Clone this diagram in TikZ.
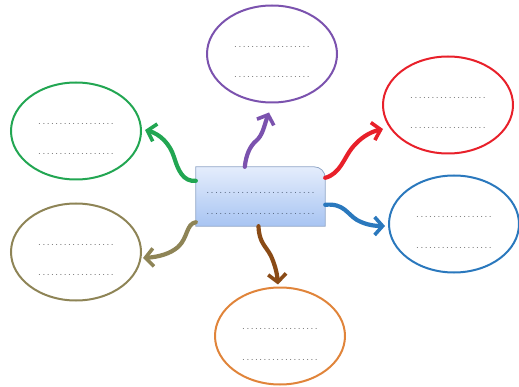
\documentclass[tikz,border=0pt]{standalone}
\usetikzlibrary{shapes.geometric,arrows.meta,calc}
\definecolor{cpurple}{HTML}{7B52AE}
\definecolor{cgreen}{HTML}{22A652}
\definecolor{cred}{HTML}{E8202A}
\definecolor{cblue}{HTML}{2A78BD}
\definecolor{colive}{HTML}{8E8456}
\definecolor{cbrown}{HTML}{8A4B16}
\definecolor{corange}{HTML}{E0843A}
\definecolor{cdots}{HTML}{5A5A5A}
\definecolor{cboxdots}{HTML}{46566E}
\definecolor{cboxtop}{HTML}{E4EDFC}
\definecolor{cboxbot}{HTML}{A8C4F2}
\definecolor{cboxline}{HTML}{8FA5C6}
\newcommand\dotsrow[2][1.5pt]{\foreach \i in {1,...,#2}{.\hspace{#1}}}
\begin{document}
\begin{tikzpicture}[x=1pt,y=-1pt,
  ell/.style={ellipse, line width=2pt, minimum width=130pt, minimum height=97pt, inner sep=0pt},
  dotrow/.style={font=\fontsize{10}{11}\selectfont, text=cdots, inner sep=0pt, anchor=base},
  boxdots/.style={font=\fontsize{11}{12}\selectfont, text=cboxdots, inner sep=0pt, anchor=base},
  arr/.style={line width=4.2pt, line cap=round, -{Straight Barb[length=8pt,width=18pt,line width=3.6pt]}}]
\useasboundingbox (0,0) rectangle (519,387);
% ellipses
\node[ell, draw=cpurple] (pur) at (272,54) {};
\node[ell, draw=cgreen]  (grn) at (76,131) {};
\node[ell, draw=cred]    (red) at (448,105) {};
\node[ell, draw=colive]  (oli) at (76,252) {};
\node[ell, draw=cblue]   (blu) at (454,224) {};
\node[ell, draw=corange] (org) at (280,336) {};
\foreach \e in {pur,grn,red,oli,blu,org}{
  \node[dotrow] (\e1) at ($(\e)+(0,-6.5)$) {\dotsrow{18}};
  \node[dotrow] (\e2) at ($(\e)+(0,24)$) {\dotsrow{18}};
}
% centre box
\node[minimum width=129pt, minimum height=59pt, inner sep=0pt] (box) at (260.5,196.5) {};
\path[draw=cboxline, line width=0.8pt, top color=cboxtop, bottom color=cboxbot]
  (box.south west) -- (box.north west) -- ([xshift=-11pt]box.north east)
  to[out=0,in=90] ([yshift=-11pt]box.north east) -- (box.south east) -- cycle;
\node[boxdots] (box1) at ($(box)+(0,-3)$) {\dotsrow[1.4pt]{25}};
\node[boxdots] (box2) at ($(box)+(0,18)$) {\dotsrow[1.4pt]{25}};
% connectors
\coordinate (ps) at ([xshift=49pt]box.north west);
\coordinate (gs) at ([yshift=-14pt]box.north west);
\coordinate (rs) at ([yshift=-11pt]box.north east);
\coordinate (bs) at ([yshift=-38pt]box.north east);
\coordinate (os) at ([yshift=4pt]box.south west);
\coordinate (ws) at ([xshift=-2pt]box.south);
\draw[arr, cpurple] (ps) .. controls (246,155) and (250,146) .. (256,141) .. controls (263,135) and (264,126) .. ($(pur.south)+(-3,9)$);
\draw[arr, cgreen] (gs) .. controls (183,182) and (178,170) .. (174,157) .. controls (170,144) and (160,134) .. ($(grn.east)+(3,-1)$);
\draw[arr, cred] (rs) .. controls (340,174) and (344,158) .. (352,148) .. controls (360,138) and (370,132) .. ($(red.center)+(-65,24)$);
\draw[arr, cblue] (bs) .. controls (344,203) and (347,214) .. (357,220) .. controls (366,225) and (375,226) .. ($(blu.west)+(-3,2)$);
\draw[arr, colive] (os) .. controls (186,224) and (188,238) .. (178,247) .. controls (170,254) and (158,257) .. ($(oli.east)+(1,6)$);
\draw[arr, cbrown] (ws) .. controls (259,243) and (266,246) .. (271,256) .. controls (275,265) and (277,273) .. ($(org.north)+(-2,-2)$);
\end{tikzpicture}
\end{document}
